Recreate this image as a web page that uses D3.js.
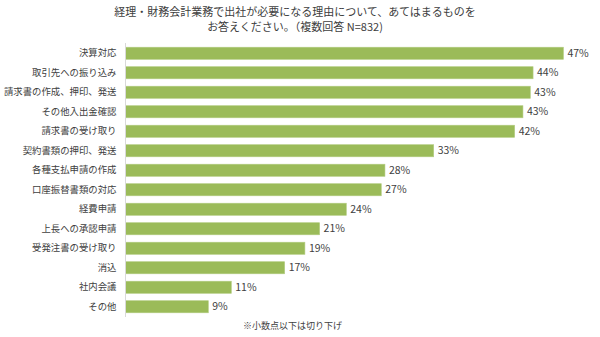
<!DOCTYPE html>
<html><head><meta charset="utf-8">
<script src="https://cdn.jsdelivr.net/npm/d3@7"></script>
<style>body{margin:0;background:#fff;} text{font-family:"Noto Sans CJK JP","Noto Sans",sans-serif;}</style>
</head><body>
<svg id="c" width="600" height="337"></svg>
<script>
const titleLines = ["経理・財務会計業務で出社が必要になる理由について、あてはまるものを", "お答えください。（複数回答 N=832)"];
const categories = ["決算対応","取引先への振り込み","請求書の作成、押印、発送","その他入出金確認","請求書の受け取り","契約書類の押印、発送","各種支払申請の作成","口座振替書類の対応","経費申請","上長への承認申請","受発注書の受け取り","消込","社内会議","その他"];
const values = [47.6,44.3,44.0,43.2,42.3,33.5,28.2,27.8,24.0,21.1,19.5,17.3,11.5,9.0];
const valueLabels = ["47%","44%","43%","43%","42%","33%","28%","27%","24%","21%","19%","17%","11%","9%"];
const note = "※小数点以下は切り下げ";

const svg = d3.select("#c");
const x = d3.scaleLinear().domain([0,50]).range([125.5,585.5]);
const y = d3.scaleBand().domain(categories).range([43.5,316.5]).paddingInner(0.38).paddingOuter(0.19);

svg.selectAll("text.title").data(titleLines).enter().append("text")
  .attr("x",295).attr("y",(d,i)=>16+i*15).attr("text-anchor","middle")
  .attr("font-size",11).attr("fill","#404040").text(d=>d);

svg.selectAll("rect.bar").data(values).enter().append("rect")
  .attr("x",x(0)).attr("y",(d,i)=>y(categories[i]))
  .attr("width",d=>x(d)-x(0)).attr("height",y.bandwidth())
  .attr("fill","#9bbb59").attr("stroke","#b3cc80").attr("stroke-width",0.6);

const yAxis = svg.append("g").attr("transform",`translate(${x(0)},0)`).call(d3.axisLeft(y).tickSize(0).tickPadding(9));
yAxis.select(".domain").attr("stroke","#d9d9d9").attr("d","M0,43V317");
yAxis.selectAll("text").attr("font-size",9.4).attr("fill","#404040")
  .style("font-family",'"Noto Sans CJK JP","Noto Sans",sans-serif');

svg.selectAll("text.val").data(values).enter().append("text")
  .attr("x",d=>x(d)+4).attr("y",(d,i)=>y(categories[i])+y.bandwidth()/2)
  .attr("dy","0.35em").attr("font-size",10.5).attr("fill","#404040")
  .text((d,i)=>valueLabels[i]);

svg.append("text").attr("x",243).attr("y",329).attr("font-size",9).attr("fill","#404040").text(note);
</script>
</body></html>
